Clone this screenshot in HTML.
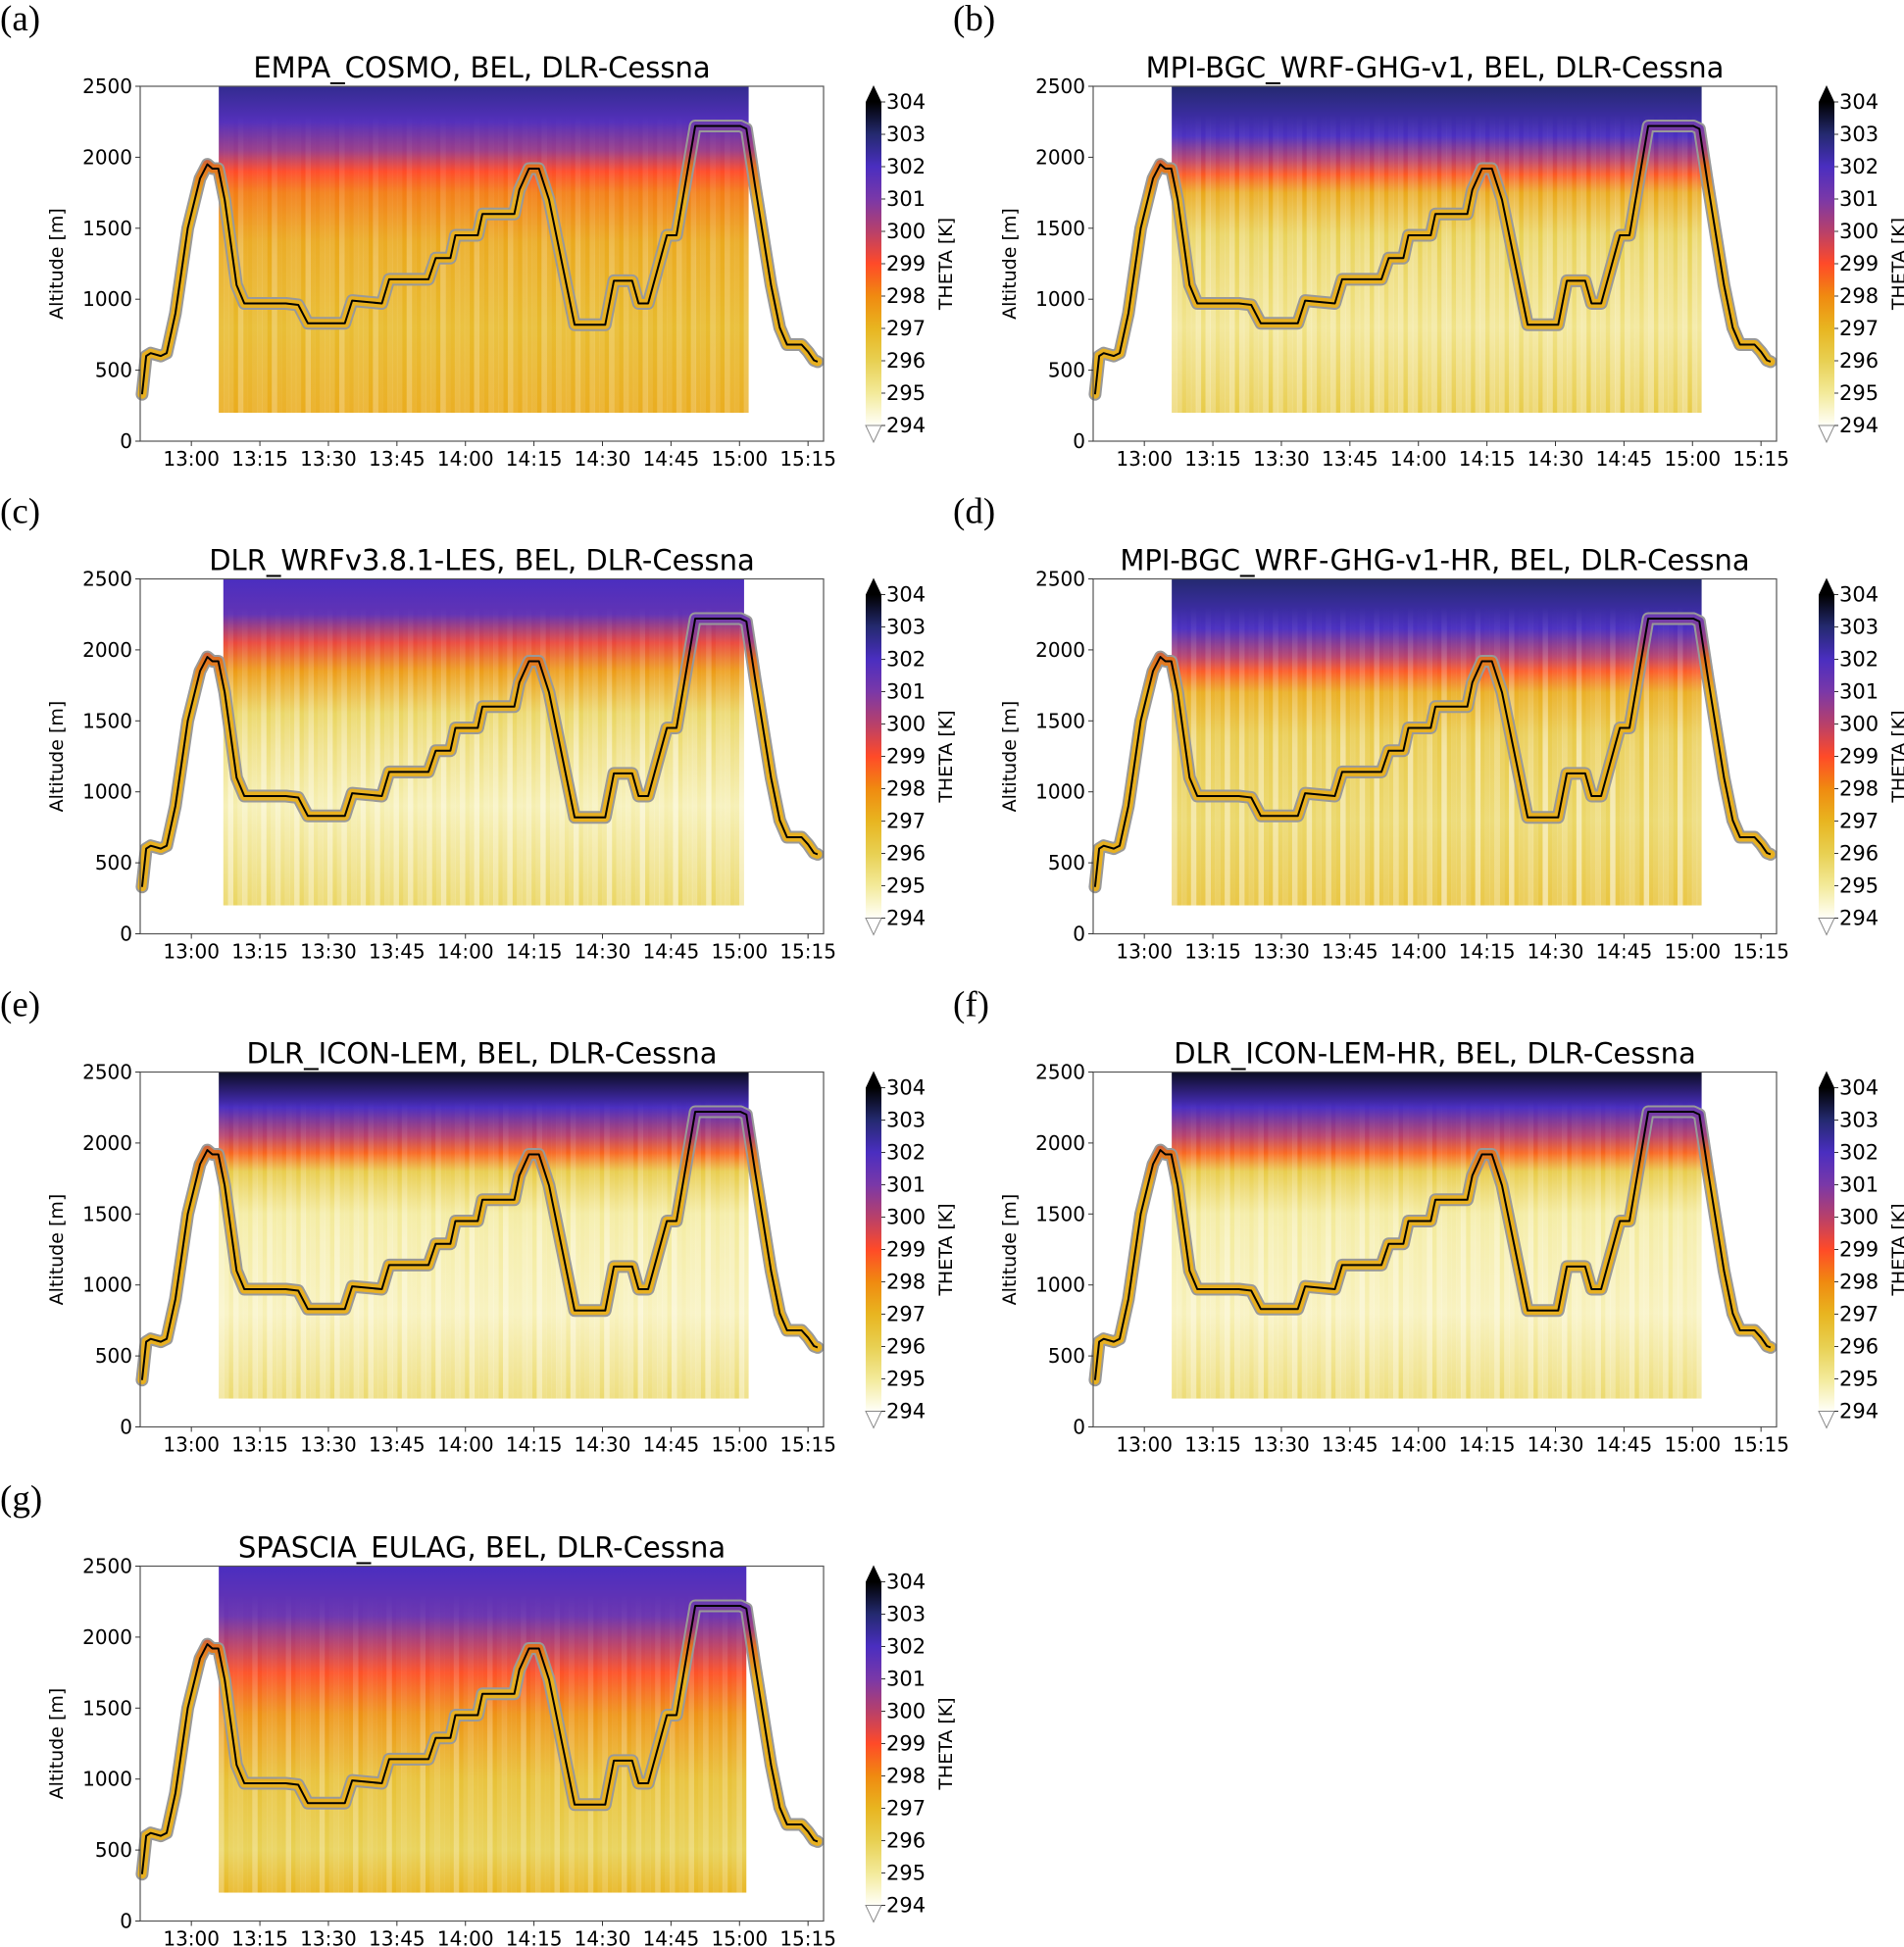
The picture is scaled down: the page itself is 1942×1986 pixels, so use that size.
<!DOCTYPE html>
<html><head><meta charset="utf-8">
<style>
html,body{margin:0;padding:0;background:#fff;}
svg{display:block;}
text{font-family:"DejaVu Sans","Liberation Sans",sans-serif;fill:#000;}
.pl{font-family:"Liberation Serif","DejaVu Serif",serif;}
</style></head>
<body>
<svg id="fig" width="1942" height="1986" viewBox="0 0 1942 1986" xmlns="http://www.w3.org/2000/svg">
<defs>
<linearGradient id="cmap" x1="0" y1="1" x2="0" y2="0">
<stop offset="0" stop-color="#fffff8"/><stop offset="0.1" stop-color="#f3ea9a"/><stop offset="0.2" stop-color="#e8d052"/>
<stop offset="0.3" stop-color="#e8b520"/><stop offset="0.4" stop-color="#f08a10"/><stop offset="0.5" stop-color="#ff4a28"/>
<stop offset="0.6" stop-color="#b8406a"/><stop offset="0.7" stop-color="#7a38a8"/><stop offset="0.8" stop-color="#4a2ec0"/>
<stop offset="0.9" stop-color="#242a70"/><stop offset="1" stop-color="#000"/>
</linearGradient>
</defs>
</svg>
<script>
// ---- data ----
const panelLetters = ['(a)','(b)','(c)','(d)','(e)','(f)','(g)'];
const panelTitles = ['EMPA_COSMO, BEL, DLR-Cessna','MPI-BGC_WRF-GHG-v1, BEL, DLR-Cessna','DLR_WRFv3.8.1-LES, BEL, DLR-Cessna','MPI-BGC_WRF-GHG-v1-HR, BEL, DLR-Cessna','DLR_ICON-LEM, BEL, DLR-Cessna','DLR_ICON-LEM-HR, BEL, DLR-Cessna','SPASCIA_EULAG, BEL, DLR-Cessna'];
// minutes after 13:00
const trackTimes = [-10.8,-9.9,-8.9,-6.7,-5.4,-3.5,-0.8,1.9,3.5,4.6,5.9,7.3,9.9,11.6,20.7,23.4,25.5,33.6,35.2,41.7,43.3,51.9,53.5,56.7,57.8,62.7,63.7,70.7,71.8,73.9,76.1,78.3,83.9,90.6,92.5,96.5,97.9,100,104.1,106.2,110.3,120.2,121.5,123.4,126.9,128.8,130.4,133.6,135,136.3,137.1];
const trackAlts = [330,600,620,600,620,900,1500,1850,1950,1920,1920,1700,1100,970,970,960,830,830,990,970,1140,1140,1290,1290,1450,1450,1600,1600,1770,1920,1920,1700,820,820,1130,1130,970,970,1450,1450,2220,2220,2200,1800,1100,800,680,680,630,570,560];
const xTickMin = [0,15,30,45,60,75,90,105,120,135];
const xTickLabels = ['13:00','13:15','13:30','13:45','14:00','14:15','14:30','14:45','15:00','15:15'];
const yTicks = [0,500,1000,1500,2000,2500];
const cbarTicks = [294,295,296,297,298,299,300,301,302,303,304];
const modelStart = [6,6,7,6,6,6,6];
const modelEnd = [122,122,121,122,122,122,121.5];
// field profiles: [altitude, theta]
const profA = [[2500,302.6],[2250,301.8],[2050,300.5],[1900,299],[1750,298.2],[1400,297.3],[800,296.8],[200,297.2]];
const profB = [[2500,303],[2150,302],[1980,300],[1880,298.8],[1750,297.3],[1450,296],[800,295.3],[200,296.2]];
const profC = [[2500,302],[2250,301.5],[2050,299.3],[1850,297.6],[1550,295.8],[900,294.8],[200,295.8]];
const profD = [[2500,303],[2150,302],[1950,300],[1850,298.8],[1700,297.2],[1400,296.3],[800,295.8],[200,296.5]];
const profE = [[2500,303.7],[2250,302],[2050,300],[1930,298.6],[1800,296.2],[1500,295],[800,294.7],[200,295.6]];
const profG = [[2500,302],[2150,301.3],[1950,300],[1750,298.9],[1450,297.8],[1000,296.6],[500,296],[200,297]];
const profiles = [profA,profB,profC,profD,profE,profE,profG];

// ---- layout ----
const colX = [143,1115], axW = 697, axH = 362, rowY = [88,590.5,1093.5,1597.5];
const T0 = -11.2, T1 = 138.4;
const svg = document.getElementById('fig');
const NS = 'http://www.w3.org/2000/svg';
function mk(tag, attrs, parent){const e=document.createElementNS(NS,tag);for(const k in attrs)e.setAttribute(k,attrs[k]);(parent||svg).appendChild(e);return e;}
const cmapStops=[[0,'#fffff8'],[0.1,'#f3ea9a'],[0.2,'#e8d052'],[0.3,'#e8b520'],[0.4,'#f08a10'],[0.5,'#ff4a28'],[0.6,'#b8406a'],[0.7,'#7a38a8'],[0.8,'#4a2ec0'],[0.9,'#242a70'],[1,'#000000']];
function hex(h){return [1,3,5].map(i=>parseInt(h.substr(i,2),16));}
function thetaColor(th){let f=Math.max(0,Math.min(1,(th-294)/10));for(let i=1;i<cmapStops.length;i++){if(f<=cmapStops[i][0]){const a=cmapStops[i-1],b=cmapStops[i];const u=(f-a[0])/(b[0]-a[0]);const ca=hex(a[1]),cb=hex(b[1]);return 'rgb('+ca.map((v,j)=>Math.round(v+(cb[j]-v)*u)).join(',')+')';}}return '#000';}

const defs = svg.querySelector('defs');
for(let p=0;p<7;p++){
  const ax0 = colX[p%2], ay0 = rowY[Math.floor(p/2)];
  const xs = t => ax0 + (t-T0)/(T1-T0)*axW;
  const ys = a => ay0 + axH - a/2500*axH;
  const g = mk('g',{});
  
  
  const lab = mk('text',{x:ax0-143,y:ay0-57,'font-size':37,class:'pl'},g);
  lab.textContent = panelLetters[p];
  
  
  const tt = mk('text',{x:ax0+axW/2,y:ay0-9,'font-size':29,'text-anchor':'middle'},g);
  tt.textContent = panelTitles[p];
  
  
  // gradient for field
  const gid='fld'+p;
  const lg = mk('linearGradient',{id:gid,gradientUnits:'userSpaceOnUse',x1:0,y1:ys(2500),x2:0,y2:ys(200)},defs);
  profiles[p].forEach(([alt,th])=>{mk('stop',{offset:((2500-alt)/2300).toFixed(4),'stop-color':thetaColor(th)},lg);});
  const x0=xs(modelStart[p]), x1=xs(modelEnd[p]);
  const fld = mk('rect',{x:x0,y:ys(2500),width:x1-x0,height:ys(200)-ys(2500),fill:'url(#'+gid+')'},g);
  
  
  // streak texture
  const wg = mk('linearGradient',{id:'wf'+p,gradientUnits:'userSpaceOnUse',x1:0,y1:ys(2300),x2:0,y2:ys(1300)},defs);
  mk('stop',{offset:0,'stop-color':'#fff','stop-opacity':0},wg);mk('stop',{offset:1,'stop-color':'#fff','stop-opacity':1},wg);
  const n=110, w=(x1-x0)/n;
  for(let i=0;i<n;i++){
    const o=Math.pow(0.5+0.5*Math.sin(i*2.7+p*1.3)*Math.cos(i*0.9+p),1.5)*(p===0||p===6?0.3:0.55);
    mk('rect',{x:x0+i*w,y:ys(2450),width:w+0.5,height:ys(200)-ys(2450),fill:'url(#wf'+p+')',opacity:o.toFixed(3)},g);
  }
  // track
  const pts = trackTimes.map((t,i)=>xs(t).toFixed(1)+','+ys(trackAlts[i]).toFixed(1)).join(' ');
  const tg = mk('linearGradient',{id:'tk'+p,gradientUnits:'userSpaceOnUse',x1:0,y1:ys(2300),x2:0,y2:ys(1700)},defs);
  mk('stop',{offset:0,'stop-color':'#5a3ac0'},tg);mk('stop',{offset:0.4,'stop-color':'#a04080'},tg);mk('stop',{offset:0.6,'stop-color':'#e07020'},tg);mk('stop',{offset:1,'stop-color':'#e8b020'},tg);
  const t1=mk('polyline',{points:pts,fill:'none',stroke:'#999','stroke-width':13,'stroke-linejoin':'round','stroke-linecap':'round'},g);
  
  
  const t2=mk('polyline',{points:pts,fill:'none',stroke:'url(#tk'+p+')','stroke-width':9,'stroke-linejoin':'round','stroke-linecap':'round'},g);
  
  
  const t3=mk('polyline',{points:pts,fill:'none',stroke:'#000','stroke-width':2,'stroke-linejoin':'round'},g);
  
  
  // axes frame
  const fr=mk('rect',{x:ax0,y:ay0,width:axW,height:axH,fill:'none',stroke:'#555','stroke-width':1.2},g);
  
  
  yTicks.forEach(v=>{
    mk('line',{x1:ax0-5,x2:ax0,y1:ys(v),y2:ys(v),stroke:'#333'},g);
    const t=mk('text',{x:ax0-8,y:ys(v)+7,'font-size':20,'text-anchor':'end'},g);t.textContent=v;
    
    
  });
  xTickMin.forEach((m,i)=>{
    mk('line',{x1:xs(m),x2:xs(m),y1:ay0+axH,y2:ay0+axH+5,stroke:'#333'},g);
    const t=mk('text',{x:xs(m),y:ay0+axH+25,'font-size':20,'text-anchor':'middle'},g);t.textContent=xTickLabels[i];
    
    
  });
  const yl=mk('text',{x:0,y:0,'font-size':19,'text-anchor':'middle',transform:'translate('+(ax0-79)+','+(ay0+axH/2)+') rotate(-90)'},g);
  yl.textContent='Altitude [m]';
  
  
  // colorbar
  const cx=ax0+axW+43, cw=16, ct=ay0+16, cb=ay0+346;
  const cbg=mk('g',{},g);
  
  
  mk('rect',{x:cx,y:ct,width:cw,height:cb-ct,fill:'url(#cmap)'},cbg);
  mk('polygon',{points:cx+','+ct+' '+(cx+cw)+','+ct+' '+(cx+cw/2)+','+(ay0-1),fill:'#000'},cbg);
  mk('polygon',{points:cx+','+cb+' '+(cx+cw)+','+cb+' '+(cx+cw/2)+','+(ay0+axH+1),fill:'#fff',stroke:'#888','stroke-width':1},cbg);
  cbarTicks.forEach(v=>{
    const y=cb-(v-294)/10*(cb-ct);
    mk('line',{x1:cx+cw,x2:cx+cw+4,y1:y,y2:y,stroke:'#333'},cbg);
    const t=mk('text',{x:cx+cw+5,y:y+7,'font-size':21},cbg);t.textContent=v;
    
    
  });
  const cl=mk('text',{x:0,y:0,'font-size':19,'text-anchor':'middle',transform:'translate('+(cx+88)+','+(ay0+axH/2)+') rotate(-90)'},cbg);
  cl.textContent='THETA [K]';
  
  
}
</script>
</body></html>
